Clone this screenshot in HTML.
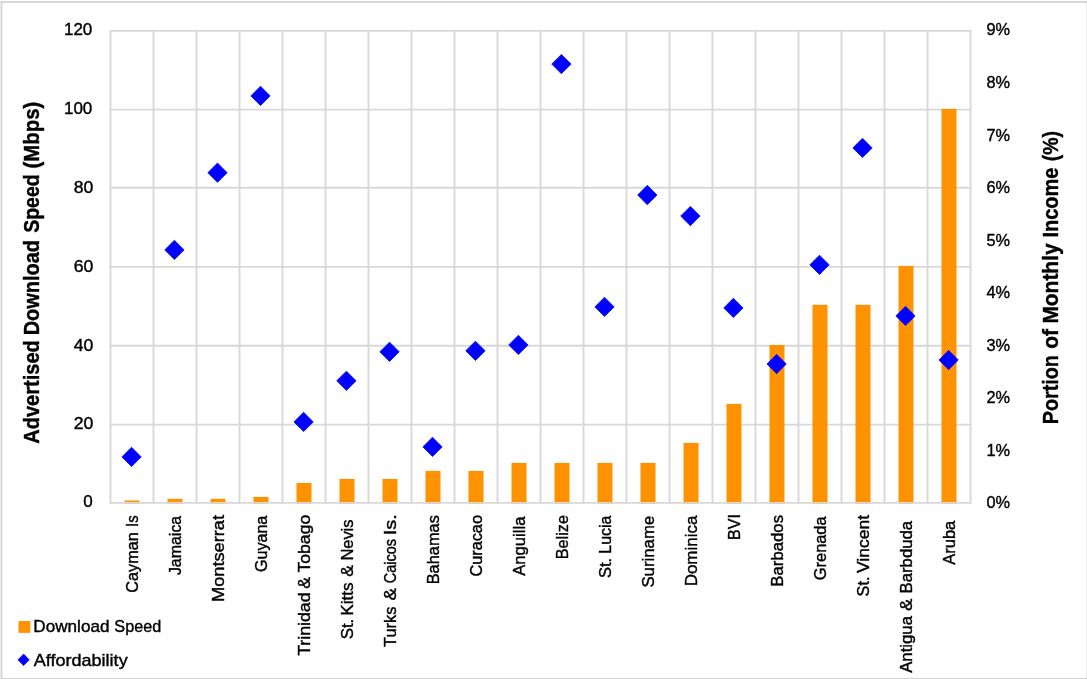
<!DOCTYPE html>
<html lang="en"><head><meta charset="utf-8"><title>Advertised Download Speed and Affordability</title>
<style>html,body{margin:0;padding:0;background:#fff}body{width:1087px;height:679px;overflow:hidden}svg{display:block}text{font-family:"Liberation Sans",sans-serif;fill:#000;stroke:#000;stroke-width:0.4px}</style></head><body>
<svg width="1087" height="679" viewBox="0 0 1087 679">
<rect x="0" y="0" width="1087" height="679" fill="#fff"/>
<rect x="1.45" y="1.95" width="1086" height="676.85" fill="none" stroke="#d3d3d3" stroke-width="1.8"/>
<g stroke="#d8d8d8" stroke-width="1.9" fill="none" stroke-linecap="round">
<line x1="110.50" y1="424.60" x2="970.50" y2="424.60"/>
<line x1="110.50" y1="345.80" x2="970.50" y2="345.80"/>
<line x1="110.50" y1="266.90" x2="970.50" y2="266.90"/>
<line x1="110.50" y1="187.80" x2="970.50" y2="187.80"/>
<line x1="110.50" y1="109.60" x2="970.50" y2="109.60"/>
<line x1="110.50" y1="30.90" x2="970.50" y2="30.90"/>
<line x1="110.50" y1="30.90" x2="110.50" y2="502.90"/>
<line x1="153.50" y1="30.90" x2="153.50" y2="502.90"/>
<line x1="196.50" y1="30.90" x2="196.50" y2="502.90"/>
<line x1="239.50" y1="30.90" x2="239.50" y2="502.90"/>
<line x1="282.50" y1="30.90" x2="282.50" y2="502.90"/>
<line x1="325.50" y1="30.90" x2="325.50" y2="502.90"/>
<line x1="368.50" y1="30.90" x2="368.50" y2="502.90"/>
<line x1="411.50" y1="30.90" x2="411.50" y2="502.90"/>
<line x1="454.50" y1="30.90" x2="454.50" y2="502.90"/>
<line x1="497.50" y1="30.90" x2="497.50" y2="502.90"/>
<line x1="540.50" y1="30.90" x2="540.50" y2="502.90"/>
<line x1="583.50" y1="30.90" x2="583.50" y2="502.90"/>
<line x1="626.50" y1="30.90" x2="626.50" y2="502.90"/>
<line x1="669.50" y1="30.90" x2="669.50" y2="502.90"/>
<line x1="712.50" y1="30.90" x2="712.50" y2="502.90"/>
<line x1="755.50" y1="30.90" x2="755.50" y2="502.90"/>
<line x1="798.50" y1="30.90" x2="798.50" y2="502.90"/>
<line x1="841.50" y1="30.90" x2="841.50" y2="502.90"/>
<line x1="884.50" y1="30.90" x2="884.50" y2="502.90"/>
<line x1="927.50" y1="30.90" x2="927.50" y2="502.90"/>
<line x1="970.50" y1="30.90" x2="970.50" y2="502.90"/>
</g>
<g fill="#ff9200">
<rect x="124.50" y="500.50" width="15.00" height="3.20"/>
<rect x="167.50" y="498.80" width="15.00" height="4.90"/>
<rect x="210.50" y="498.80" width="15.00" height="4.90"/>
<rect x="253.50" y="496.90" width="15.00" height="6.80"/>
<rect x="296.50" y="482.90" width="15.00" height="20.80"/>
<rect x="339.50" y="478.90" width="15.00" height="24.80"/>
<rect x="382.50" y="478.90" width="15.00" height="24.80"/>
<rect x="425.50" y="470.90" width="15.00" height="32.80"/>
<rect x="468.50" y="470.90" width="15.00" height="32.80"/>
<rect x="511.50" y="462.90" width="15.00" height="40.80"/>
<rect x="554.50" y="462.90" width="15.00" height="40.80"/>
<rect x="597.50" y="462.90" width="15.00" height="40.80"/>
<rect x="640.50" y="462.90" width="15.00" height="40.80"/>
<rect x="683.50" y="442.90" width="15.00" height="60.80"/>
<rect x="726.50" y="403.90" width="15.00" height="99.80"/>
<rect x="769.50" y="345.00" width="15.00" height="158.70"/>
<rect x="812.50" y="304.80" width="15.00" height="198.90"/>
<rect x="855.50" y="304.80" width="15.00" height="198.90"/>
<rect x="898.50" y="265.90" width="15.00" height="237.80"/>
<rect x="941.50" y="108.90" width="15.00" height="394.80"/>
</g>
<line x1="110.50" y1="502.90" x2="970.50" y2="502.90" stroke="#d8d8d8" stroke-width="1.9" stroke-linecap="round"/>
<g fill="#0000ff" stroke="#0000ff" stroke-width="0.8" stroke-linejoin="round">
<path d="M131.55 447.25L141.20 456.90L131.55 466.55L121.90 456.90Z"/>
<path d="M174.40 240.25L184.05 249.90L174.40 259.55L164.75 249.90Z"/>
<path d="M217.50 163.05L227.15 172.70L217.50 182.35L207.85 172.70Z"/>
<path d="M260.50 86.25L270.15 95.90L260.50 105.55L250.85 95.90Z"/>
<path d="M303.60 412.25L313.25 421.90L303.60 431.55L293.95 421.90Z"/>
<path d="M346.40 371.15L356.05 380.80L346.40 390.45L336.75 380.80Z"/>
<path d="M389.55 342.15L399.20 351.80L389.55 361.45L379.90 351.80Z"/>
<path d="M432.50 437.25L442.15 446.90L432.50 456.55L422.85 446.90Z"/>
<path d="M475.45 341.15L485.10 350.80L475.45 360.45L465.80 350.80Z"/>
<path d="M518.40 335.25L528.05 344.90L518.40 354.55L508.75 344.90Z"/>
<path d="M561.40 54.45L571.05 64.10L561.40 73.75L551.75 64.10Z"/>
<path d="M604.50 297.25L614.15 306.90L604.50 316.55L594.85 306.90Z"/>
<path d="M647.30 185.35L656.95 195.00L647.30 204.65L637.65 195.00Z"/>
<path d="M690.35 206.40L700.00 216.05L690.35 225.70L680.70 216.05Z"/>
<path d="M733.40 298.25L743.05 307.90L733.40 317.55L723.75 307.90Z"/>
<path d="M776.60 354.35L786.25 364.00L776.60 373.65L766.95 364.00Z"/>
<path d="M819.50 255.20L829.15 264.85L819.50 274.50L809.85 264.85Z"/>
<path d="M862.50 138.25L872.15 147.90L862.50 157.55L852.85 147.90Z"/>
<path d="M905.50 306.30L915.15 315.95L905.50 325.60L895.85 315.95Z"/>
<path d="M948.60 350.35L958.25 360.00L948.60 369.65L938.95 360.00Z"/>
</g>
<g font-size="17" text-anchor="end">
<text x="92.8" y="507.30">0</text>
<text x="93.3" y="429.20" textLength="19.6" lengthAdjust="spacingAndGlyphs">20</text>
<text x="93.3" y="351.00" textLength="19.6" lengthAdjust="spacingAndGlyphs">40</text>
<text x="93.3" y="271.70" textLength="19.6" lengthAdjust="spacingAndGlyphs">60</text>
<text x="93.3" y="193.00" textLength="19.6" lengthAdjust="spacingAndGlyphs">80</text>
<text x="92.3" y="113.80">100</text>
<text x="92.3" y="34.80">120</text>
</g>
<g font-size="17">
<text x="986.4" y="508.00" textLength="23.6" lengthAdjust="spacingAndGlyphs">0%</text>
<text x="986.4" y="455.80" textLength="23.6" lengthAdjust="spacingAndGlyphs">1%</text>
<text x="986.4" y="403.20" textLength="23.6" lengthAdjust="spacingAndGlyphs">2%</text>
<text x="986.4" y="350.60" textLength="23.6" lengthAdjust="spacingAndGlyphs">3%</text>
<text x="986.4" y="298.00" textLength="23.6" lengthAdjust="spacingAndGlyphs">4%</text>
<text x="986.4" y="245.80" textLength="23.6" lengthAdjust="spacingAndGlyphs">5%</text>
<text x="986.4" y="193.00" textLength="23.6" lengthAdjust="spacingAndGlyphs">6%</text>
<text x="986.4" y="140.50" textLength="23.6" lengthAdjust="spacingAndGlyphs">7%</text>
<text x="986.4" y="87.90" textLength="23.6" lengthAdjust="spacingAndGlyphs">8%</text>
<text x="986.4" y="35.20" textLength="23.6" lengthAdjust="spacingAndGlyphs">9%</text>
</g>
<g>
<text font-size="17" transform="translate(138.35 0) rotate(-90)"><tspan x="-592.72" textLength="60.49" lengthAdjust="spacingAndGlyphs">Cayman</tspan> <tspan x="-526.89" textLength="11.51" lengthAdjust="spacingAndGlyphs">Is</tspan></text>
<text font-size="17" transform="translate(181.35 0) rotate(-90)"><tspan x="-575.10" textLength="59.32" lengthAdjust="spacingAndGlyphs">Jamaica</tspan></text>
<text font-size="17" transform="translate(224.35 0) rotate(-90)"><tspan x="-602.04" textLength="87.04" lengthAdjust="spacingAndGlyphs">Montserrat</tspan></text>
<text font-size="17" transform="translate(267.35 0) rotate(-90)"><tspan x="-572.01" textLength="56.32" lengthAdjust="spacingAndGlyphs">Guyana</tspan></text>
<text font-size="17" transform="translate(310.35 0) rotate(-90)"><tspan x="-655.86" textLength="63.45" lengthAdjust="spacingAndGlyphs">Trinidad</tspan> <tspan x="-588.72" textLength="11.82" lengthAdjust="spacingAndGlyphs">&amp;</tspan> <tspan x="-572.56" textLength="57.81" lengthAdjust="spacingAndGlyphs">Tobago</tspan></text>
<text font-size="17" transform="translate(353.35 0) rotate(-90)"><tspan x="-639.29" textLength="20.58" lengthAdjust="spacingAndGlyphs">St.</tspan> <tspan x="-615.66" textLength="33.27" lengthAdjust="spacingAndGlyphs">Kitts</tspan> <tspan x="-576.82" textLength="11.82" lengthAdjust="spacingAndGlyphs">&amp;</tspan> <tspan x="-560.61" textLength="41.11" lengthAdjust="spacingAndGlyphs">Nevis</tspan></text>
<text font-size="17" transform="translate(396.35 0) rotate(-90)"><tspan x="-646.94" textLength="40.40" lengthAdjust="spacingAndGlyphs">Turks</tspan> <tspan x="-600.56" textLength="12.66" lengthAdjust="spacingAndGlyphs">&amp;</tspan> <tspan x="-583.24" textLength="44.24" lengthAdjust="spacingAndGlyphs">Caicos</tspan> <tspan x="-535.28" textLength="21.19" lengthAdjust="spacingAndGlyphs">Is.</tspan></text>
<text font-size="17" transform="translate(439.35 0) rotate(-90)"><tspan x="-584.30" textLength="69.12" lengthAdjust="spacingAndGlyphs">Bahamas</tspan></text>
<text font-size="17" transform="translate(482.35 0) rotate(-90)"><tspan x="-576.62" textLength="61.61" lengthAdjust="spacingAndGlyphs">Curacao</tspan></text>
<text font-size="17" transform="translate(525.35 0) rotate(-90)"><tspan x="-575.76" textLength="59.21" lengthAdjust="spacingAndGlyphs">Anguilla</tspan></text>
<text font-size="17" transform="translate(568.35 0) rotate(-90)"><tspan x="-559.30" textLength="44.34" lengthAdjust="spacingAndGlyphs">Belize</tspan></text>
<text font-size="17" transform="translate(611.35 0) rotate(-90)"><tspan x="-577.98" textLength="20.14" lengthAdjust="spacingAndGlyphs">St.</tspan> <tspan x="-553.67" textLength="38.07" lengthAdjust="spacingAndGlyphs">Lucia</tspan></text>
<text font-size="17" transform="translate(654.35 0) rotate(-90)"><tspan x="-587.59" textLength="71.80" lengthAdjust="spacingAndGlyphs">Suriname</tspan></text>
<text font-size="17" transform="translate(697.35 0) rotate(-90)"><tspan x="-586.35" textLength="70.71" lengthAdjust="spacingAndGlyphs">Dominica</tspan></text>
<text font-size="17" transform="translate(740.35 0) rotate(-90)"><tspan x="-539.98" textLength="25.80" lengthAdjust="spacingAndGlyphs">BVI</tspan></text>
<text font-size="17" transform="translate(783.35 0) rotate(-90)"><tspan x="-586.63" textLength="71.65" lengthAdjust="spacingAndGlyphs">Barbados</tspan></text>
<text font-size="17" transform="translate(826.35 0) rotate(-90)"><tspan x="-580.22" textLength="63.85" lengthAdjust="spacingAndGlyphs">Grenada</tspan></text>
<text font-size="17" transform="translate(869.35 0) rotate(-90)"><tspan x="-596.48" textLength="19.92" lengthAdjust="spacingAndGlyphs">St.</tspan> <tspan x="-573.00" textLength="58.10" lengthAdjust="spacingAndGlyphs">Vincent</tspan></text>
<text font-size="17" transform="translate(912.35 0) rotate(-90)"><tspan x="-672.85" textLength="56.88" lengthAdjust="spacingAndGlyphs">Antigua</tspan> <tspan x="-611.04" textLength="12.35" lengthAdjust="spacingAndGlyphs">&amp;</tspan> <tspan x="-593.43" textLength="72.57" lengthAdjust="spacingAndGlyphs">Barbduda</tspan></text>
<text font-size="17" transform="translate(955.35 0) rotate(-90)"><tspan x="-564.86" textLength="44.14" lengthAdjust="spacingAndGlyphs">Aruba</tspan></text>
</g>
<g>
<text font-size="21.5" font-weight="bold" transform="translate(38.90 0) rotate(-90)"><tspan x="-443.73" textLength="103.48" lengthAdjust="spacingAndGlyphs">Advertised</tspan> <tspan x="-335.36" textLength="95.39" lengthAdjust="spacingAndGlyphs">Download</tspan> <tspan x="-232.85" textLength="58.62" lengthAdjust="spacingAndGlyphs">Speed</tspan> <tspan x="-168.41" textLength="66.61" lengthAdjust="spacingAndGlyphs">(Mbps)</tspan></text>
</g>
<g>
<text font-size="21.5" font-weight="bold" transform="translate(1057.80 0) rotate(-90)"><tspan x="-424.25" textLength="69.15" lengthAdjust="spacingAndGlyphs">Portion</tspan> <tspan x="-348.73" textLength="19.68" lengthAdjust="spacingAndGlyphs">of</tspan> <tspan x="-323.62" textLength="80.23" lengthAdjust="spacingAndGlyphs">Monthly</tspan> <tspan x="-237.56" textLength="69.96" lengthAdjust="spacingAndGlyphs">Income</tspan> <tspan x="-161.18" textLength="30.23" lengthAdjust="spacingAndGlyphs">(%)</tspan></text>
</g>
<g>
<text font-size="17" y="631.55"><tspan x="33.34" textLength="76.12" lengthAdjust="spacingAndGlyphs">Download</tspan> <tspan x="114.37" textLength="46.80" lengthAdjust="spacingAndGlyphs">Speed</tspan></text>
<text font-size="17" y="665.90"><tspan x="33.77" textLength="93.89" lengthAdjust="spacingAndGlyphs">Affordability</tspan></text>
</g>
<rect x="18.5" y="621" width="11.85" height="11.85" fill="#ff9200"/>
<path d="M23.6 654.1L29.2 659.8L23.6 665.5L18 659.8Z" fill="#0000ff" stroke="#0000ff" stroke-width="0.8" stroke-linejoin="round"/>
</svg></body></html>
